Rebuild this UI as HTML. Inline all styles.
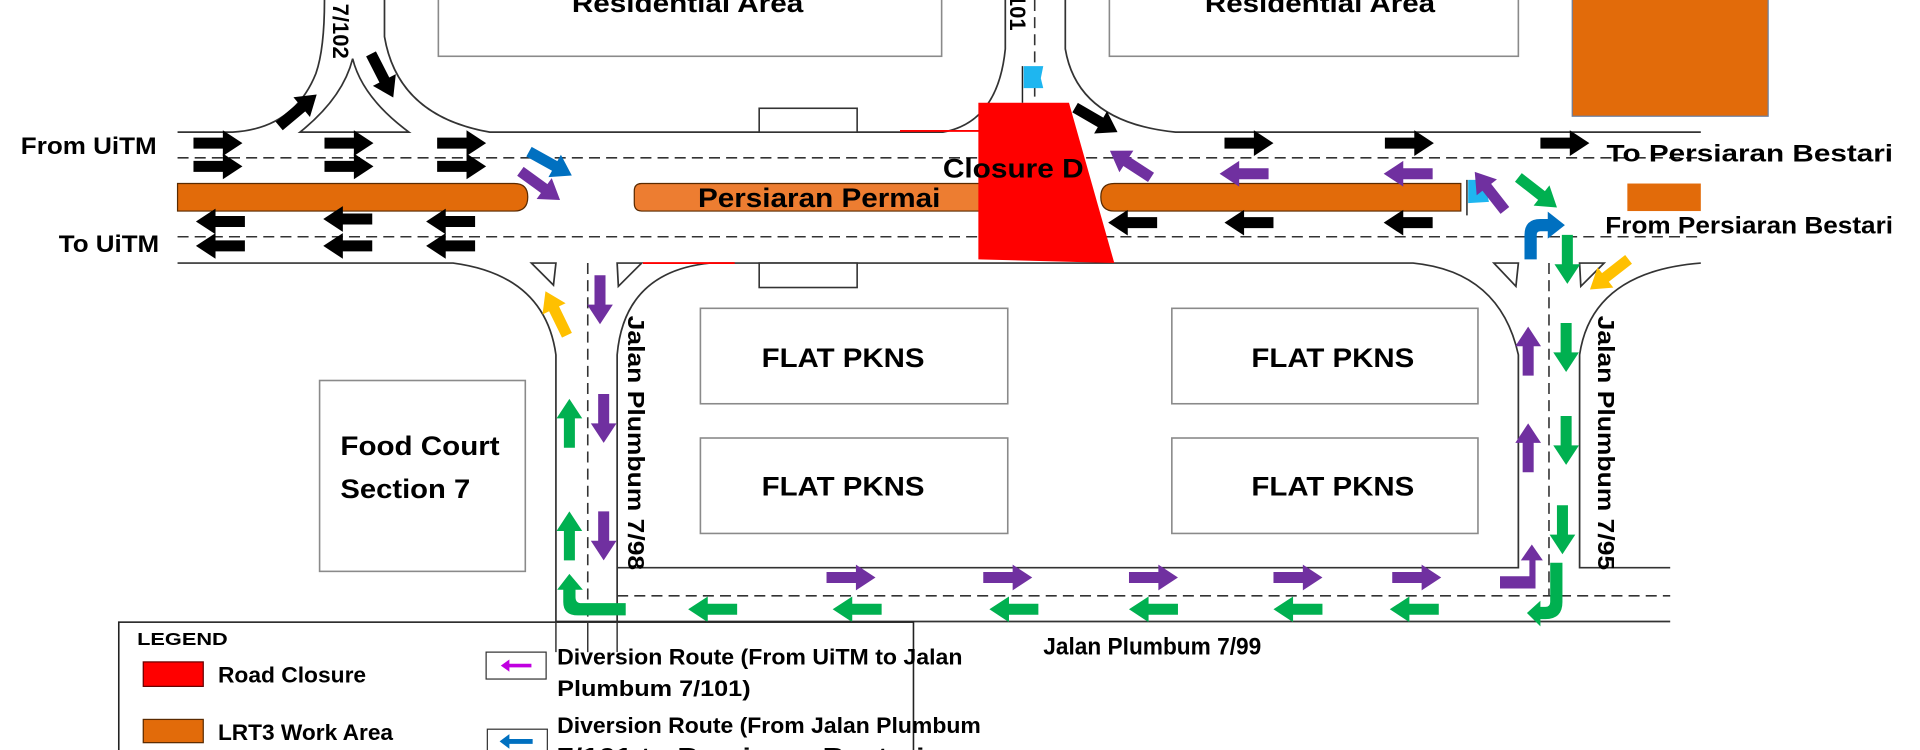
<!DOCTYPE html>
<html><head><meta charset="utf-8"><style>
html,body{margin:0;padding:0;background:#fff;}
svg{display:block}
text{font-family:"Liberation Sans Narrow","Liberation Sans",Arial,sans-serif;font-weight:bold;fill:#000}
</style></head><body>
<svg width="1920" height="750" viewBox="0 0 1568 613" preserveAspectRatio="none" xmlns="http://www.w3.org/2000/svg">
<defs>
<path id="a" d="M0,-4.5 H24 V-10.5 L40,0 L24,10.5 V4.5 H0 Z"/>
</defs>
<rect width="1568" height="613" fill="#fff"/>
<rect x="358" y="-5" width="411" height="51" fill="none" stroke="#8a8a8a" stroke-width="1.3"/>
<rect x="906" y="-5" width="334" height="51" fill="none" stroke="#8a8a8a" stroke-width="1.3"/>
<text x="467" y="10" font-size="21" textLength="189" lengthAdjust="spacingAndGlyphs">Residential Area</text>
<text x="984" y="10" font-size="21" textLength="188" lengthAdjust="spacingAndGlyphs">Residential Area</text>
<rect x="1284" y="-2" width="160" height="97" fill="#E26B0A" stroke="#6b7fa0" stroke-width="1"/>
<g fill="none" stroke="#333" stroke-width="1.4">
<path d="M145,108 H190 Q240,105 258,60 Q265,40 265,0"/>
<path d="M314,0 V30 Q325,95 400,108 H770 Q815,100 821,40 V0"/>
<path d="M870,0 V40 Q880,100 960,108 H1389"/>
<path d="M245,108 Q280,80 288,48 Q296,80 334,108 Z"/>
<path d="M145,215 H370 Q445,225 454,290 V533"/>
<path d="M504,533 V464 H1240 V290 Q1225,222 1154,215 H580 Q510,222 504,290 V464"/>
<path d="M1389,215 Q1300,222 1290,290 V464 H1364"/>
<path d="M454,508 H1364"/>
<path d="M434,215 L454,215 L452,233 Z"/>
<path d="M504,215 L524,215 L505,234 Z"/>
<path d="M1220,215 L1240,215 L1238,234 Z"/>
<path d="M1290,215 L1310,215 L1291,234 Z"/>
</g>
<g fill="none" stroke="#333" stroke-width="1.3" stroke-dasharray="9,5">
<path d="M145,129 H1389"/>
<path d="M145,193.5 H1389"/>
<path d="M480,215 V533"/>
<path d="M504,487 H1364"/>
<path d="M1265,215 V487"/>
<path d="M845,0 V84"/>
</g>
<path d="M735,107 H800 M525,215 H600" stroke="#f00" stroke-width="1.5"/>
<rect x="620" y="88.5" width="80" height="19.5" fill="#fff" stroke="#333" stroke-width="1.3"/>
<rect x="620" y="215" width="80" height="20" fill="#fff" stroke="#333" stroke-width="1.3"/>
<path d="M145,150 H420 Q431,150 431,161 Q431,172.5 420,172.5 H145 Z" fill="#E26B0A" stroke="#5a2a00" stroke-width="1"/>
<path d="M524,150 H820 V172.5 H524 Q518,172.5 518,166 V156 Q518,150 524,150 Z" fill="#ED7D31" stroke="#5a2a00" stroke-width="1"/>
<path d="M910,150 H1193 V172.5 H910 Q899,172.5 899,161 Q899,150 910,150 Z" fill="#E26B0A" stroke="#5a2a00" stroke-width="1"/>
<rect x="1329" y="150" width="60" height="22.5" fill="#E26B0A"/>
<text x="570" y="169" font-size="22" textLength="198" lengthAdjust="spacingAndGlyphs">Persiaran Permai</text>
<polygon points="799,84 873,84 910,215 799,212" fill="#f00"/>
<text x="770" y="145" font-size="22" textLength="115" lengthAdjust="spacingAndGlyphs">Closure D</text>
<path d="M835,54 V84 M1198,147 V176" stroke="#222" stroke-width="1.2"/>
<path d="M836,54 L852,54 L850,64 L852,72 L836,72 Z" fill="#1EB6F0"/>
<path d="M1199,147 L1216,147 L1214,157 L1216,165 L1199,166 Z" fill="#1EB6F0"/>
<text x="17" y="126" font-size="20" textLength="111" lengthAdjust="spacingAndGlyphs">From UiTM</text>
<text x="48" y="206" font-size="20" textLength="82" lengthAdjust="spacingAndGlyphs">To UiTM</text>
<text x="1312" y="132" font-size="20" textLength="234" lengthAdjust="spacingAndGlyphs">To Persiaran Bestari</text>
<text x="1311" y="191" font-size="20" textLength="235" lengthAdjust="spacingAndGlyphs">From Persiaran Bestari</text>
<text x="852" y="535" font-size="20" textLength="178" lengthAdjust="spacingAndGlyphs">Jalan Plumbum 7/99</text>
<text transform="translate(272,48) rotate(90)" font-size="18" text-anchor="end">Jalan Plumbum 7/102</text>
<text transform="translate(825,25) rotate(90)" font-size="18" text-anchor="end">Jalan Plumbum 7/101</text>
<text transform="translate(513,258) rotate(90)" font-size="19" textLength="208" lengthAdjust="spacingAndGlyphs">Jalan Plumbum 7/98</text>
<text transform="translate(1305,258) rotate(90)" font-size="19" textLength="208" lengthAdjust="spacingAndGlyphs">Jalan Plumbum 7/95</text>
<g fill="none" stroke="#8a8a8a" stroke-width="1.3">
<rect x="572" y="252" width="251" height="78"/>
<rect x="957" y="252" width="250" height="78"/>
<rect x="572" y="358" width="251" height="78"/>
<rect x="957" y="358" width="250" height="78"/>
<rect x="261" y="311" width="168" height="156"/>
</g>
<g font-size="22">
<text x="622" y="300" textLength="133" lengthAdjust="spacingAndGlyphs">FLAT PKNS</text>
<text x="1022" y="300" textLength="133" lengthAdjust="spacingAndGlyphs">FLAT PKNS</text>
<text x="622" y="405" textLength="133" lengthAdjust="spacingAndGlyphs">FLAT PKNS</text>
<text x="1022" y="405" textLength="133" lengthAdjust="spacingAndGlyphs">FLAT PKNS</text>
<text x="278" y="372" textLength="130" lengthAdjust="spacingAndGlyphs">Food Court</text>
<text x="278" y="407" textLength="106" lengthAdjust="spacingAndGlyphs">Section 7</text>
</g>
<g fill="#000">
<use href="#a" transform="translate(158,117)"/><use href="#a" transform="translate(158,136)"/>
<use href="#a" transform="translate(265,117)"/><use href="#a" transform="translate(265,136)"/>
<use href="#a" transform="translate(357,117)"/><use href="#a" transform="translate(357,136)"/>
<use href="#a" transform="translate(200,181) rotate(180)"/><use href="#a" transform="translate(200,201) rotate(180)"/>
<use href="#a" transform="translate(304,179) rotate(180)"/><use href="#a" transform="translate(304,201) rotate(180)"/>
<use href="#a" transform="translate(388,181) rotate(180)"/><use href="#a" transform="translate(388,201) rotate(180)"/>
<use href="#a" transform="translate(228,103) rotate(-40)"/>
<use href="#a" transform="translate(303,44) rotate(63)"/>
<use href="#a" transform="translate(878,88) rotate(30)"/>
<use href="#a" transform="translate(1000,117)"/>
<use href="#a" transform="translate(1131,117)"/>
<use href="#a" transform="translate(1258,117)"/>
<use href="#a" transform="translate(945,182) rotate(180)"/>
<use href="#a" transform="translate(1040,182) rotate(180)"/>
<use href="#a" transform="translate(1170,182) rotate(180)"/>
</g>
<g fill="#7030A0">
<use href="#a" transform="translate(425,140) rotate(36)"/>
<use href="#a" transform="translate(940,145) rotate(-147)"/>
<use href="#a" transform="translate(1036,142) rotate(180)"/>
<use href="#a" transform="translate(1170,142) rotate(180)"/>
<use href="#a" transform="translate(1229,172) rotate(-128)"/>
<use href="#a" transform="translate(490,225) rotate(90)"/>
<use href="#a" transform="translate(493,322) rotate(90)"/>
<use href="#a" transform="translate(493,418) rotate(90)"/>
<use href="#a" transform="translate(675,472)"/>
<use href="#a" transform="translate(803,472)"/>
<use href="#a" transform="translate(922,472)"/>
<use href="#a" transform="translate(1040,472)"/>
<use href="#a" transform="translate(1137,472)"/>
<use href="#a" transform="translate(1248,307) rotate(-90)"/>
<use href="#a" transform="translate(1248,386) rotate(-90)"/>
<path d="M1225,471 H1249 V458 H1242 L1251,445 L1260,458 H1254 V481 H1225 Z"/>
</g>
<g fill="#0070C0">
<use href="#a" transform="translate(432,124) rotate(29)"/>
<path d="M1245,212 V192 Q1245,179 1258,179 H1264 V173 L1278,184 L1264,195 V189 H1258 Q1255,189 1255,192 V212 Z"/>
</g>
<g fill="#00B050">
<use href="#a" transform="translate(1240,145) rotate(38)"/>
<use href="#a" transform="translate(1280,192) rotate(90)"/>
<use href="#a" transform="translate(1279,264) rotate(90)"/>
<use href="#a" transform="translate(1279,340) rotate(90)"/>
<use href="#a" transform="translate(1276,413) rotate(90)"/>
<use href="#a" transform="translate(465,366) rotate(-90)"/>
<use href="#a" transform="translate(465,458) rotate(-90)"/>
<use href="#a" transform="translate(602,498) rotate(180)"/>
<use href="#a" transform="translate(720,498) rotate(180)"/>
<use href="#a" transform="translate(848,498) rotate(180)"/>
<use href="#a" transform="translate(962,498) rotate(180)"/>
<use href="#a" transform="translate(1080,498) rotate(180)"/>
<use href="#a" transform="translate(1175,498) rotate(180)"/>
<path d="M511,493 H475 Q470,493 470,488 V482 H476 L465,469 L455,482 H460 V492 Q460,503 472,503 H511 Z"/>
<path d="M1266,460 H1276 V492 Q1276,506 1262,506 H1258 V512 L1247,501 L1258,491 V496 H1262 Q1266,496 1266,492 Z"/>
</g>
<g fill="#FFC000">
<use href="#a" transform="translate(1330,212) rotate(142)"/>
<use href="#a" transform="translate(463,274) rotate(-116)"/>
</g>
<rect x="97" y="508.5" width="649" height="110" fill="#fff" stroke="#222" stroke-width="1.3"/>
<path d="M454,508 V533 M480,508 V533 M504,508 V533" stroke="#333" stroke-width="1.2" fill="none"/>
<text x="112" y="527" font-size="14" textLength="74" lengthAdjust="spacingAndGlyphs">LEGEND</text>
<rect x="117" y="541" width="49" height="20" fill="#f00" stroke="#600" stroke-width="1"/>
<text x="178" y="558" font-size="18" textLength="121" lengthAdjust="spacingAndGlyphs">Road Closure</text>
<rect x="117" y="588" width="49" height="19" fill="#E26B0A" stroke="#5a2a00" stroke-width="1"/>
<text x="178" y="605" font-size="18" textLength="143" lengthAdjust="spacingAndGlyphs">LRT3 Work Area</text>
<rect x="397" y="533" width="49" height="22" fill="#fff" stroke="#333" stroke-width="1"/>
<path d="M409,544 L416,539 V542.5 H434 V545.5 H416 V549 Z" fill="#C000E0"/>
<rect x="398" y="596" width="49" height="22" fill="#fff" stroke="#333" stroke-width="1"/>
<path d="M408,606 L416,600 V604 H435 V608 H416 V612 Z" fill="#0070C0"/>
<g font-size="18">
<text x="455" y="543" textLength="331" lengthAdjust="spacingAndGlyphs">Diversion Route (From UiTM to Jalan</text>
<text x="455" y="569" textLength="158" lengthAdjust="spacingAndGlyphs">Plumbum 7/101)</text>
<text x="455" y="599" textLength="346" lengthAdjust="spacingAndGlyphs">Diversion Route (From Jalan Plumbum</text>
<text x="455" y="624" textLength="300" lengthAdjust="spacingAndGlyphs">7/101 to Persiaran Bestari</text>
</g>
</svg>
</body></html>
